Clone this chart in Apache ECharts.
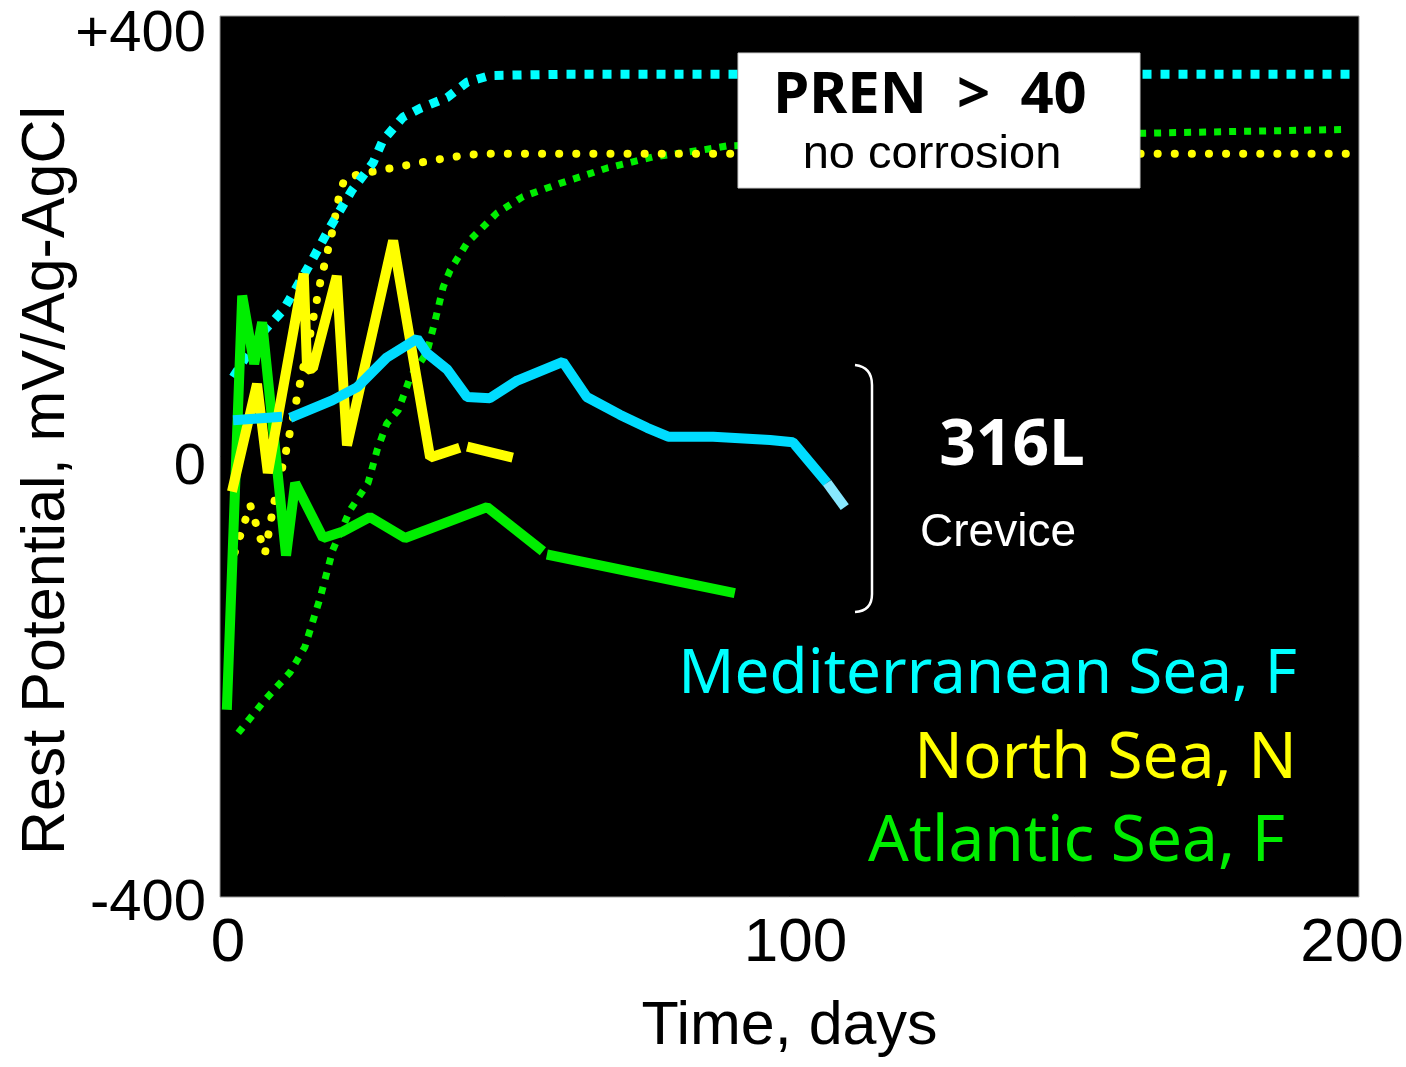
<!DOCTYPE html>
<html>
<head>
<meta charset="utf-8">
<script src="https://cdn.jsdelivr.net/npm/echarts@6/dist/echarts.min.js"></script>
<style>
html,body{margin:0;padding:0;background:#fff;}
#chart{width:1406px;height:1067px;}
</style>
</head>
<body>
<div id="chart"></div>
<script>
// ---- Data (days, mV vs Ag/AgCl) ----
// PREN > 40 alloys (dotted)
const medPren = [[2.3,72],[7.0,110],[11.1,133],[15.5,172],[19.3,208],[23.2,242],[26.9,267],[28.6,287],[32.1,308],[35.1,316],[39.9,326],[43.4,340],[47.4,346],[59.7,347],[198.4,347]];
const northPren = [[2.6,-87],[5.3,-44],[7.9,-88],[9.5,-42],[11.6,5],[13.5,53],[15.8,110],[17.6,158],[19.7,204],[20.9,236],[21.9,253],[25.1,257],[31.3,263],[37.4,269],[43.5,274],[47.9,275],[198.4,275]];
const atlPren = [[3.2,-251],[7.9,-221],[12.3,-196],[14.9,-173],[17.6,-128],[19.8,-85],[22.8,-49],[26.0,-24],[27.6,6],[29.3,30],[31.3,42],[33.4,72],[36.3,94],[37.8,124],[39.2,154],[40.4,169],[43.4,194],[48.6,221],[53.2,236],[59.7,248],[68.0,262],[76.0,272],[84.3,278],[89.0,282],[146.3,292],[197.5,297]];
// 316L crevice (solid)
const med316 = [[2.3,33],[10.9,36],[11.3,'-'],[12.3,35],[19.7,51],[24.1,63],[29.3,90],[34.6,107],[36.3,94],[39.9,79],[43.4,54],[47.4,53],[52.2,69],[60.2,86],[64.4,54],[70.2,38],[75.0,26],[78.7,18],[86.6,18],[96.6,15],[100.6,13],[106.6,-24]];
const med316Tail = [[106.6,-24],[109.7,-46]];
const north316 = [[2.1,-32],[6.5,66],[8.4,-15],[14.7,166],[15.3,79],[16.3,80],[20.5,164],[22.3,10],[30.4,196],[36.9,-1],[42.1,8],[42.8,'-'],[43.4,9],[51.4,-1]];
const atl316 = [[1.2,-230],[3.9,146],[6.0,84],[7.4,122],[11.6,-90],[13.2,-24],[18.1,-74],[21.6,-68],[26.3,-55],[32.5,-74],[46.9,-46],[56.7,-86],[57.0,'-'],[57.4,-89],[90.4,-124]];
const yTicks = ['-400','0','+400'];
const xTicks = ['0','100','200'];

const chart = echarts.init(document.getElementById('chart'), null, {renderer:'canvas'});
const narrow = '"Liberation Sans","Arial",sans-serif';
const comic = '"Noto Sans","Open Sans",sans-serif';

function solid(data, color, w){
  return {type:'line', data:data, showSymbol:false, symbol:'none', connectNulls:false, animation:false,
    lineStyle:{color:color, width:w||10, cap:'butt', join:'bevel'}, z:3};
}
function dotted(data, color, w, dash, cap){
  return {type:'line', data:data, showSymbol:false, symbol:'none', animation:false,
    lineStyle:{color:color, width:w, type:dash, cap:cap||'butt'}, z:2};
}

const option = {
  backgroundColor:'#ffffff',
  animation:false,
  grid:{left:220, right:47, top:16, bottom:170, outerBoundsMode:'none', containLabel:false,
    show:true, backgroundColor:'#000000', borderColor:'#9a9a9a', borderWidth:1},
  xAxis:{type:'value', min:0, max:200, interval:100,
    axisLine:{show:false}, axisTick:{show:false}, splitLine:{show:false},
    axisLabel:{color:'#000', fontFamily:narrow, fontSize:62, margin:16,
      formatter:function(v){
        const t = xTicks[Math.round(v/100)];
        if (v===0) return '{l|'+t+'}';
        if (v===200) return '{r|'+t+'}';
        return '{m|'+t+'}';
      },
      rich:{
        l:{fontFamily:narrow, fontSize:62, color:'#000', padding:[0,0,0,16]},
        m:{fontFamily:narrow, fontSize:62, color:'#000', padding:[0,0,0,12]},
        r:{fontFamily:narrow, fontSize:62, color:'#000', padding:[0,14,0,0]}
      }},
    name:'Time, days', nameLocation:'middle', nameGap:100, nameMoveOverlap:false,
    nameTextStyle:{color:'#000', fontFamily:narrow, fontSize:61}},
  yAxis:{type:'value', min:-400, max:400, interval:400,
    axisLine:{show:false}, axisTick:{show:false}, splitLine:{show:false},
    axisLabel:{color:'#000', fontFamily:narrow, fontSize:58, margin:14,
      formatter:function(v){
        const t = yTicks[Math.round((v+400)/400)];
        if (v===400) return '{a|'+t+'}';
        if (v===0) return '{b|'+t+'}';
        return '{c|'+t+'}';
      },
      rich:{
        a:{fontFamily:narrow, fontSize:58, color:'#000', padding:[38,0,0,0]},
        b:{fontFamily:narrow, fontSize:58, color:'#000', padding:[22,0,0,0]},
        c:{fontFamily:narrow, fontSize:58, color:'#000', padding:[14,0,0,0]}
      }},
    name:'Rest Potential, mV/Ag-AgCl', nameLocation:'middle', nameGap:142, nameRotate:90, nameMoveOverlap:false,
    nameTextStyle:{color:'#000', fontFamily:narrow, fontSize:61, padding:[0,48,0,0]}},
  series:[
    dotted(atlPren, '#00ee00', 7, [7,8], 'butt'),
    dotted(northPren, '#ffff00', 8, [0.1,17], 'round'),
    dotted(medPren, '#00ffff', 9, [9,9], 'butt'),
    solid(atl316, '#00ee00', 10),
    solid(north316, '#ffff00', 10),
    solid(med316, '#00dcff', 10),
    solid(med316Tail, '#88e8ff', 10)
  ],
  graphic:[
    {type:'rect', z:100, shape:{x:738, y:53, width:402, height:135}, style:{fill:'#ffffff', stroke:'#cccccc', lineWidth:1}},
    {type:'text', z:101, style:{text:'PREN  >  40', x:930, y:96, font:'bold 58px '+comic, fill:'#000', textAlign:'center', textVerticalAlign:'middle'}},
    {type:'text', z:101, style:{text:'no corrosion', x:932, y:155, font:'47px '+narrow, fill:'#000', textAlign:'center', textVerticalAlign:'middle'}},
    {type:'bezierCurve', z:100, shape:{x1:855, y1:365, x2:872, y2:385, cpx1:872, cpy1:367}, style:{fill:null, stroke:'#ffffff', lineWidth:2.5}},
    {type:'line', z:100, shape:{x1:872, y1:385, x2:872, y2:594}, style:{stroke:'#ffffff', lineWidth:2.5}},
    {type:'bezierCurve', z:100, shape:{x1:872, y1:594, x2:855, y2:612, cpx1:872, cpy1:611}, style:{fill:null, stroke:'#ffffff', lineWidth:2.5}},
    {type:'text', z:101, style:{text:'316L', x:1012, y:447, font:'bold 64px '+comic, fill:'#fff', textAlign:'center', textVerticalAlign:'middle'}},
    {type:'text', z:101, style:{text:'Crevice', x:998, y:533, font:'46px '+narrow, fill:'#fff', textAlign:'center', textVerticalAlign:'middle'}},
    {type:'text', z:101, style:{text:'Mediterranean Sea, F', x:1297, y:675, font:'62px '+comic, fill:'#00ffff', textAlign:'right', textVerticalAlign:'middle'}},
    {type:'text', z:101, style:{text:'North Sea, N', x:1297, y:760, font:'64px '+comic, fill:'#ffff00', textAlign:'right', textVerticalAlign:'middle'}},
    {type:'text', z:101, style:{text:'Atlantic Sea, F', x:1285, y:843, font:'64px '+comic, fill:'#00ee00', textAlign:'right', textVerticalAlign:'middle'}}
  ]
};
chart.setOption(option);
</script>
</body>
</html>
